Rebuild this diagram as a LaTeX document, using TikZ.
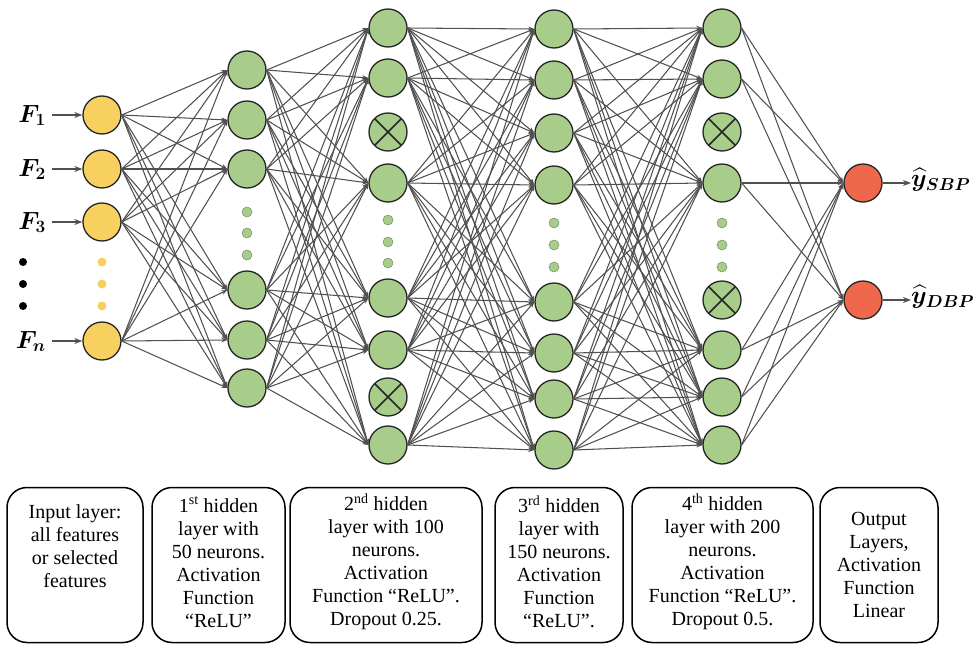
\documentclass[tikz,border=0pt]{standalone}
\usepackage{amsmath,amssymb}
\usepackage{bm}
\usepackage[no-math]{fontspec}
\setmainfont{Liberation Serif}
\usetikzlibrary{arrows.meta,positioning,calc}
\definecolor{inyellow}{RGB}{247,208,96}
\definecolor{hidgreen}{RGB}{168,204,138}
\definecolor{outred}{RGB}{240,104,76}
\definecolor{edgegray}{RGB}{80,80,80}

\begin{document}
\begin{tikzpicture}[x=1pt, y=-1pt,
    neuron/.style={circle, draw=black!85, line width=1.3pt, minimum size=38pt, inner sep=0pt},
    inneuron/.style={neuron, fill=inyellow},
    hidneuron/.style={neuron, fill=hidgreen},
    outneuron/.style={neuron, fill=outred},
    dropneuron/.style={hidneuron, path picture={
        \draw[line width=1.5pt] (path picture bounding box.north west) -- (path picture bounding box.south east)
            (path picture bounding box.south west) -- (path picture bounding box.north east);}},
    gdot/.style={circle, fill=hidgreen, draw=hidgreen!70!black, line width=0.5pt, minimum size=10pt, inner sep=0pt},
    ydot/.style={circle, fill=inyellow, minimum size=9pt, inner sep=0pt},
    bdot/.style={circle, fill=black, minimum size=8pt, inner sep=0pt},
    arr/.style={-{Stealth[length=6pt,width=4.5pt]}, line width=1.05pt, edgegray},
    inarr/.style={-{Stealth[length=8pt,width=6pt]}, line width=1.4pt, edgegray},
    mathlab/.style={font=\fontsize{24}{28}\selectfont, inner sep=0pt},
    layerbox/.style={draw, line width=1.5pt, rounded corners=20pt, minimum height=155pt},
    boxtext/.style={align=center, font=\fontsize{20}{23}\selectfont}]

    \useasboundingbox (0,0) rectangle (978,645);

    % Input layer
    \foreach \n/\y in {1/115, 2/169, 3/222, 4/341}
        \node[inneuron] (in\n) at (102,\y) {};
    \foreach \y [count=\k] in {262,284,306} {
        \node[ydot] (ind\k) at (102,\y) {};
        \node[bdot] (fd\k) at (23,\y) {};
    }

    % Feature labels
    \foreach \n/\s in {1/1, 2/2, 3/3, 4/n} {
        \node[mathlab, anchor=base east] (f\n) at ($(in\n.center)+(-56,7)$) {$\bm{F_{\s}}$};
        \draw[inarr] ($(f\n.east |- in\n.center)+(6,0)$) -- (in\n);
    }

    % Hidden layer 1
    \foreach \y [count=\k] in {70,120,169,290,340,388}
        \node[hidneuron] (ha\k) at (247,\y) {};
    \foreach \y [count=\k] in {212,233,255}
        \node[gdot] (had\k) at (247,\y) {};

    % Hidden layer 2 (dropout 0.25)
    \foreach \y [count=\k] in {28,78,183,298,350,445}
        \node[hidneuron] (hb\k) at (388,\y) {};
    \foreach \y [count=\k] in {132,397}
        \node[dropneuron] (hbx\k) at (388,\y) {};
    \foreach \y [count=\k] in {220,242,263}
        \node[gdot] (hbd\k) at (388,\y) {};

    % Hidden layer 3
    \foreach \y [count=\k] in {29,80,133,185,302,353,399,450}
        \node[hidneuron] (hc\k) at (554,\y) {};
    \foreach \y [count=\k] in {223,245,267}
        \node[gdot] (hcd\k) at (554,\y) {};

    % Hidden layer 4 (dropout 0.5)
    \foreach \y [count=\k] in {28,79,183,350,397,445}
        \node[hidneuron] (hd\k) at (722,\y) {};
    \foreach \y [count=\k] in {132,300}
        \node[dropneuron] (hdx\k) at (722,\y) {};
    \foreach \y [count=\k] in {223,245,267}
        \node[gdot] (hdd\k) at (722,\y) {};

    % Output layer
    \node[outneuron] (out1) at (863,183) {};
    \node[outneuron] (out2) at (863,300) {};
    \node[mathlab, anchor=west] (ysbp) at (911,180) {$\bm{\widehat{y}_{SBP}}$};
    \node[mathlab, anchor=west] (ydbp) at (911,297) {$\bm{\widehat{y}_{DBP}}$};
    \draw[inarr] (out1) -- (ysbp.west |- out1);
    \draw[inarr] (out2) -- (ydbp.west |- out2);

    % Connections
    \foreach \i in {1,...,4}
        \foreach \j in {1,...,6}
            \draw[arr] (in\i.east) -- (ha\j.west);
    \foreach \i in {1,...,6}
        \foreach \j in {1,...,6}
            \draw[arr] (ha\i.east) -- (hb\j.west);
    \foreach \i in {1,...,6}
        \foreach \j in {1,...,8}
            \draw[arr] (hb\i.east) -- (hc\j.west);
    \foreach \i in {1,...,8}
        \foreach \j in {1,...,6}
            \draw[arr] (hc\i.east) -- (hd\j.west);
    \foreach \i in {1,...,6}
        \foreach \j in {1,2}
            \draw[arr] (hd\i.east) -- (out\j.west);

    % Description boxes
    \node[layerbox, minimum width=136pt] (bx1) at (75,565) {};
    \node[layerbox, minimum width=133pt] (bx2) at (218.5,565) {};
    \node[layerbox, minimum width=192pt] (bx3) at (386,565) {};
    \node[layerbox, minimum width=128pt] (bx4) at (559,565) {};
    \node[layerbox, minimum width=181pt] (bx5) at (722.5,565) {};
    \node[layerbox, minimum width=118pt] (bx6) at (879,565) {};

    \node[boxtext] (tx1) at (75,546) {Input layer:\\all features\\or selected\\features};
    \node[boxtext] (tx2) at (218.5,562) {1\textsuperscript{st} hidden\\layer with\\50 neurons.\\Activation\\Function\\``ReLU''};
    \node[boxtext] (tx3) at (386,562) {2\textsuperscript{nd} hidden\\layer with 100\\neurons.\\Activation\\Function ``ReLU''.\\Dropout 0.25.};
    \node[boxtext] (tx4) at (559,562) {3\textsuperscript{rd} hidden\\layer with\\150 neurons.\\Activation\\Function\\``ReLU''.};
    \node[boxtext] (tx5) at (722.5,562) {4\textsuperscript{th} hidden\\layer with 200\\neurons.\\Activation\\Function ``ReLU''.\\Dropout 0.5.};
    \node[boxtext] (tx6) at (879,565) {Output\\Layers,\\Activation\\Function\\Linear};
\end{tikzpicture}
\end{document}
